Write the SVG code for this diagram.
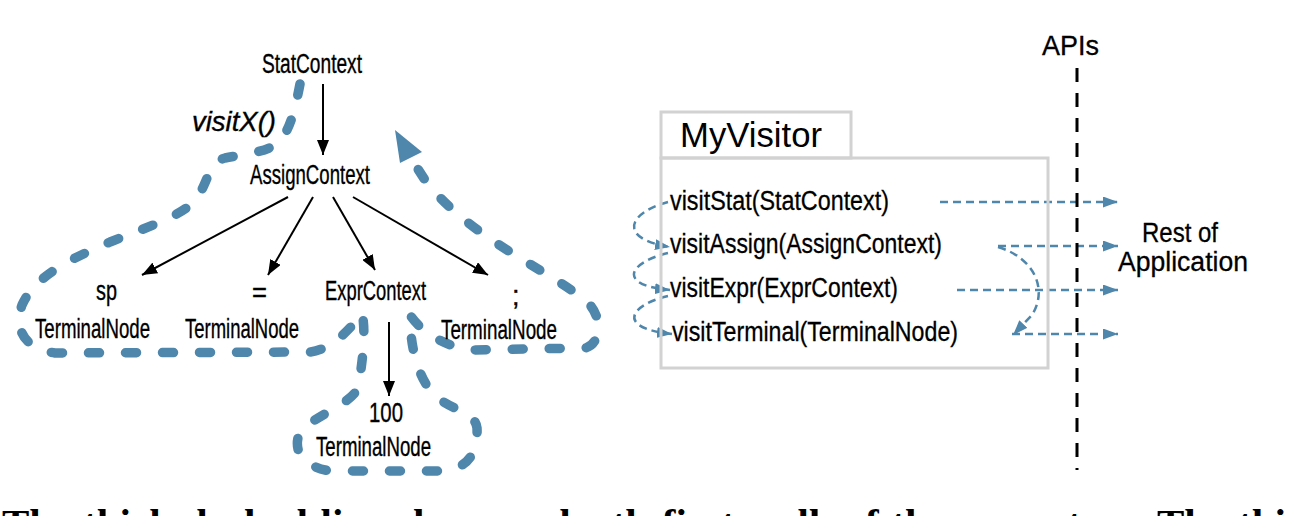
<svg xmlns="http://www.w3.org/2000/svg" width="1294" height="516" viewBox="0 0 1294 516">
<style>
.t{font-family:"Liberation Sans",Arial,sans-serif;font-size:27px;fill:#000;stroke:#000;stroke-width:0.35}
.m{font-family:"Liberation Sans",Arial,sans-serif;font-size:27px;fill:#000;stroke:#000;stroke-width:0.3}
.big{font-family:"Liberation Sans",Arial,sans-serif;font-size:35px;fill:#000}
.edge{stroke:#000;stroke-width:2;fill:none}
.walk{stroke:#4f86ab;stroke-width:9.5;fill:none;stroke-linecap:round;stroke-linejoin:round;stroke-dasharray:11 26}
.call{stroke:#4f86ab;stroke-width:2.5;fill:none;stroke-dasharray:8 5}
.box{fill:none;stroke:#d2d2d2;stroke-width:3}
</style>
<defs>
<marker id="ab" markerUnits="userSpaceOnUse" markerWidth="15" markerHeight="12" refX="15" refY="6" orient="auto"><path d="M0,0 L15,6 L0,12 z" fill="#000"/></marker>
<marker id="ap" markerUnits="userSpaceOnUse" markerWidth="15" markerHeight="11" refX="15" refY="5.5" orient="auto"><path d="M0,0 L15,5.5 L0,11 z" fill="#4f86ab"/></marker>
</defs>
<rect width="1294" height="516" fill="#fff"/>

<g id="walk">
<path class="walk" d="M300,84 C295,110 290,130 279,142 C268,152 245,154 225,158 C210,162 208,180 198,197 C185,215 150,226 110,242 C75,257 35,275 22,305 C15,325 20,348 55,353 L310,352 C330,350 350,330 362,313 C366,330 363,360 358,388 C350,405 315,415 300,432 C294,445 296,465 330,471 L440,471 C470,470 478,450 477,428 C475,410 445,410 430,390 C415,370 410,340 410,315 C420,330 440,345 470,350 L585,348 C600,345 603,320 590,305 C560,275 470,240 425,180 L414,163"/>
<polygon points="395,130 422,152 400,163" fill="#4f86ab"/>
</g>

<g id="connectors">
<line class="edge" x1="323" y1="84" x2="323" y2="155" marker-end="url(#ab)"/>
<line class="edge" x1="288" y1="197" x2="142" y2="275" marker-end="url(#ab)"/>
<line class="edge" x1="313" y1="197" x2="268" y2="275" marker-end="url(#ab)"/>
<line class="edge" x1="333" y1="197" x2="375" y2="270" marker-end="url(#ab)"/>
<line class="edge" x1="353" y1="197" x2="488" y2="275" marker-end="url(#ab)"/>
<line class="edge" x1="389" y1="322" x2="389" y2="396" marker-end="url(#ab)"/>
<path class="call" d="M668,202 C630,212 615,238 670,247" marker-end="url(#ap)"/>
<path class="call" d="M668,253 C630,262 615,285 670,290" marker-end="url(#ap)"/>
<path class="call" d="M668,296 C630,305 615,328 672,334" marker-end="url(#ap)"/>
<line class="call" x1="940" y1="202" x2="1118" y2="202" marker-end="url(#ap)"/>
<line class="call" x1="998" y1="246" x2="1118" y2="246" marker-end="url(#ap)"/>
<line class="call" x1="957" y1="290" x2="1118" y2="290" marker-end="url(#ap)"/>
<line class="call" x1="1012" y1="334" x2="1118" y2="334" marker-end="url(#ap)"/>
<path class="call" d="M998,247 C1035,258 1048,290 1032,315 L1013,335" marker-end="url(#ap)"/>
<line x1="1077" y1="68" x2="1077" y2="470" stroke="#000" stroke-width="3" stroke-dasharray="14 11"/>
</g>

<g id="n-stat"><text class="t" x="262" y="73" textLength="100" lengthAdjust="spacingAndGlyphs">StatContext</text></g>
<g id="n-visitx"><text class="t" x="192" y="131" font-style="italic" textLength="84" lengthAdjust="spacingAndGlyphs">visitX()</text></g>
<g id="n-assign"><text class="t" x="250" y="184" textLength="120" lengthAdjust="spacingAndGlyphs">AssignContext</text></g>
<g id="n-sp"><text class="t" x="96" y="300" textLength="21" lengthAdjust="spacingAndGlyphs">sp</text><text class="t" x="35" y="338" textLength="115" lengthAdjust="spacingAndGlyphs">TerminalNode</text></g>
<g id="n-eq"><text class="t" x="252" y="302" textLength="15" lengthAdjust="spacingAndGlyphs">=</text><text class="t" x="185" y="338" textLength="114" lengthAdjust="spacingAndGlyphs">TerminalNode</text></g>
<g id="n-expr"><text class="t" x="325" y="300" textLength="101" lengthAdjust="spacingAndGlyphs">ExprContext</text></g>
<g id="n-semi"><text class="t" x="512" y="305">;</text><text class="t" x="441" y="339" textLength="116" lengthAdjust="spacingAndGlyphs">TerminalNode</text></g>
<g id="n-100"><text class="t" x="369" y="422" textLength="34" lengthAdjust="spacingAndGlyphs">100</text><text class="t" x="316" y="456" textLength="115" lengthAdjust="spacingAndGlyphs">TerminalNode</text></g>

<g id="n-myvisitor">
<rect class="box" x="661" y="112" width="190" height="46"/>
<rect class="box" x="661" y="158" width="387" height="210"/>
<text class="big" x="680" y="147" textLength="142" lengthAdjust="spacingAndGlyphs">MyVisitor</text>
<text class="m" x="670" y="210" textLength="219" lengthAdjust="spacingAndGlyphs">visitStat(StatContext)</text>
<text class="m" x="670" y="253" textLength="272" lengthAdjust="spacingAndGlyphs">visitAssign(AssignContext)</text>
<text class="m" x="670" y="297" textLength="228" lengthAdjust="spacingAndGlyphs">visitExpr(ExprContext)</text>
<text class="m" x="672" y="341" textLength="286" lengthAdjust="spacingAndGlyphs">visitTerminal(TerminalNode)</text>
</g>
<g id="n-apis"><text class="m" x="1042" y="55" font-size="30" textLength="57" lengthAdjust="spacingAndGlyphs">APIs</text></g>
<g id="n-rest"><text class="m" x="1142" y="242" textLength="76" lengthAdjust="spacingAndGlyphs">Rest of</text><text class="m" x="1118" y="271" textLength="130" lengthAdjust="spacingAndGlyphs">Application</text></g>
<text x="2" y="537" font-family="'Liberation Serif',serif" font-weight="bold" font-size="41" word-spacing="2.5">The thick dashed line shows a depth-first walk of the parse tree. The thin</text>
</svg>
